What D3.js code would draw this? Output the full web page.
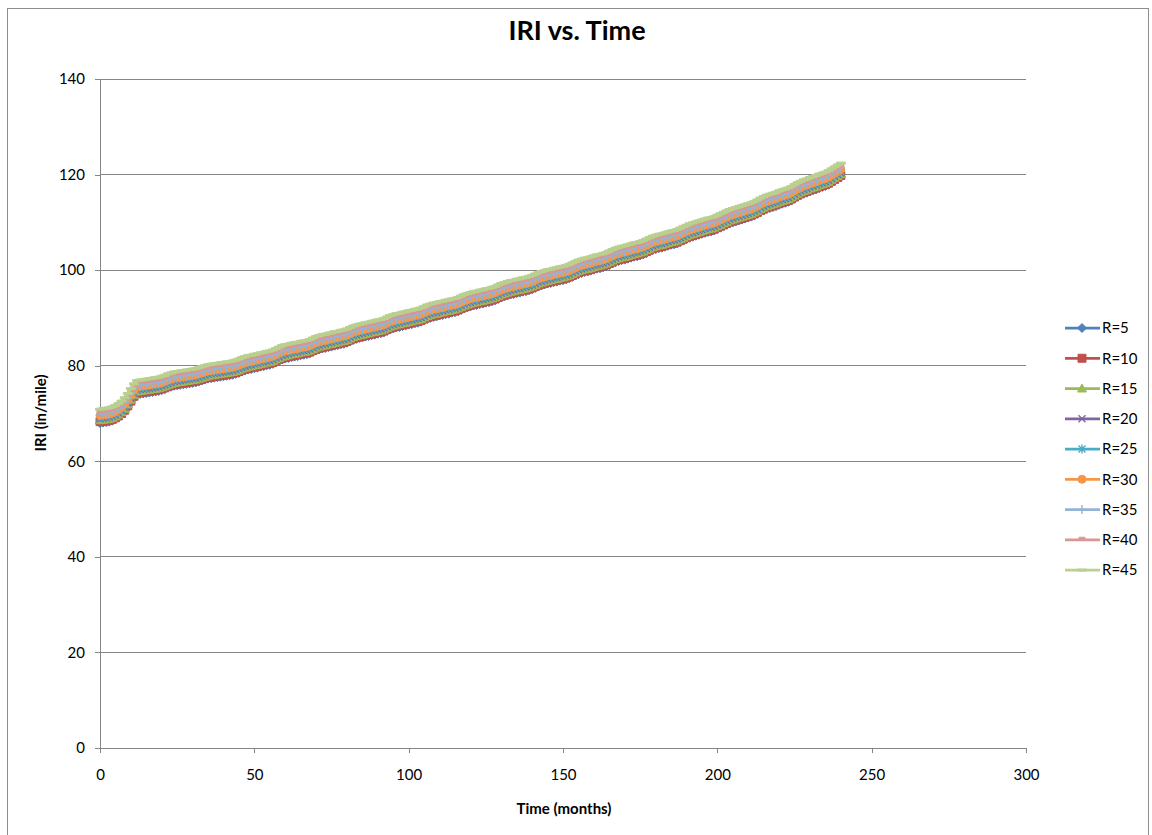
<!DOCTYPE html>
<html>
<head>
<meta charset="utf-8">
<script src="https://d3js.org/d3.v7.min.js"></script>
<style>
  body { margin: 0; background: #fff; }
  svg text { font-family: Lato, "Open Sans", sans-serif; fill: #000; }
</style>
</head>
<body>
<div id="chart"></div>
<script>
var w = 1152;
var h = 835;

// plot area (Excel-style)
var plotLeft = 100, plotRight = 1026, plotTop = 79, plotBottom = 748;

var seriesNames = ["R=5", "R=10", "R=15", "R=20", "R=25", "R=30", "R=35", "R=40", "R=45"];
var seriesColors = ["#4F81BD", "#C0504D", "#9BBB59", "#8064A2", "#4BACC6", "#F79646", "#95B3D7", "#D99694", "#B9D08F"];
var seriesMarkers = ["diamond", "square", "triangle", "x", "star", "circle", "plus", "dash", "longdash"];

var xTicks = [0, 50, 100, 150, 200, 250, 300];
var yTicks = [0, 20, 40, 60, 80, 100, 120, 140];

// months 0..240, one point per month
var months = d3.range(0, 241);

// IRI (in/mile), one row per year
var iriR5 = [
  68.0,68.1,68.2,68.3,68.5,68.8,69.2,69.7,70.4,71.3,72.3,73.3,
  74.0,74.1,74.2,74.3,74.4,74.5,74.6,74.7,74.9,75.1,75.4,75.6,
  75.8,75.9,76.0,76.1,76.2,76.3,76.4,76.5,76.7,76.9,77.1,77.3,
  77.4,77.5,77.6,77.7,77.8,77.9,78.0,78.1,78.3,78.5,78.8,79.0,
  79.2,79.3,79.5,79.6,79.8,79.9,80.1,80.2,80.4,80.7,81.0,81.3,
  81.5,81.6,81.8,81.9,82.0,82.2,82.3,82.4,82.6,82.9,83.2,83.4,
  83.6,83.7,83.9,84.0,84.2,84.3,84.5,84.6,84.8,85.1,85.4,85.6,
  85.8,85.9,86.1,86.2,86.4,86.5,86.7,86.8,87.0,87.3,87.6,87.8,
  88.0,88.1,88.3,88.4,88.6,88.7,88.9,89.0,89.2,89.5,89.8,90.0,
  90.2,90.3,90.5,90.6,90.8,90.9,91.1,91.2,91.4,91.7,92.0,92.2,
  92.4,92.6,92.7,92.9,93.0,93.2,93.3,93.5,93.7,94.0,94.3,94.5,
  94.7,94.9,95.0,95.2,95.3,95.5,95.6,95.8,96.0,96.3,96.6,96.8,
  97.0,97.2,97.3,97.5,97.6,97.8,97.9,98.1,98.3,98.6,98.9,99.2,
  99.4,99.6,99.7,99.9,100.1,100.3,100.4,100.6,100.8,101.1,101.4,101.7,
  101.9,102.1,102.2,102.4,102.6,102.8,102.9,103.1,103.3,103.6,103.9,104.2,
  104.4,104.6,104.7,104.9,105.1,105.3,105.4,105.6,105.9,106.2,106.5,106.8,
  107.0,107.2,107.4,107.6,107.8,108.0,108.1,108.3,108.6,108.9,109.2,109.5,
  109.8,110.0,110.2,110.4,110.6,110.8,111.0,111.2,111.5,111.8,112.2,112.5,
  112.8,113.0,113.2,113.4,113.7,113.9,114.1,114.3,114.6,115.0,115.4,115.7,
  116.0,116.2,116.5,116.7,116.9,117.2,117.4,117.6,117.9,118.3,118.7,119.1,
  119.5
];
var iriR10 = [
  68.3,68.4,68.5,68.6,68.8,69.1,69.5,70.0,70.7,71.6,72.6,73.6,
  74.3,74.4,74.5,74.6,74.7,74.8,74.9,75.0,75.2,75.4,75.7,75.9,
  76.1,76.2,76.3,76.4,76.5,76.6,76.7,76.8,77.0,77.2,77.4,77.6,
  77.7,77.8,77.9,78.0,78.1,78.2,78.3,78.4,78.6,78.8,79.1,79.3,
  79.5,79.6,79.8,79.9,80.1,80.2,80.4,80.5,80.7,81.0,81.3,81.6,
  81.8,81.9,82.1,82.2,82.3,82.5,82.6,82.7,82.9,83.2,83.5,83.7,
  83.9,84.0,84.2,84.3,84.5,84.6,84.8,84.9,85.1,85.4,85.7,85.9,
  86.1,86.2,86.4,86.5,86.7,86.8,87.0,87.1,87.3,87.6,87.9,88.1,
  88.3,88.4,88.6,88.7,88.9,89.0,89.2,89.3,89.5,89.8,90.1,90.3,
  90.5,90.6,90.8,90.9,91.1,91.2,91.4,91.5,91.7,92.0,92.3,92.5,
  92.7,92.9,93.0,93.2,93.3,93.5,93.6,93.8,94.0,94.3,94.6,94.8,
  95.0,95.2,95.3,95.5,95.6,95.8,95.9,96.1,96.3,96.6,96.9,97.1,
  97.3,97.5,97.6,97.8,97.9,98.1,98.2,98.4,98.6,98.9,99.2,99.5,
  99.7,99.9,100.0,100.2,100.4,100.6,100.7,100.9,101.1,101.4,101.7,102.0,
  102.2,102.4,102.5,102.7,102.9,103.1,103.2,103.4,103.6,103.9,104.2,104.5,
  104.7,104.9,105.0,105.2,105.4,105.6,105.7,105.9,106.2,106.5,106.8,107.1,
  107.3,107.5,107.7,107.9,108.1,108.3,108.4,108.6,108.9,109.2,109.5,109.8,
  110.1,110.3,110.5,110.7,110.9,111.1,111.3,111.5,111.8,112.1,112.5,112.8,
  113.1,113.3,113.5,113.7,114.0,114.2,114.4,114.6,114.9,115.3,115.7,116.0,
  116.3,116.5,116.8,117.0,117.2,117.5,117.7,117.9,118.2,118.6,119.0,119.4,
  119.8
];
var iriR15 = [
  68.6,68.7,68.8,68.9,69.1,69.4,69.8,70.3,71.0,71.9,72.9,73.9,
  74.6,74.7,74.8,74.9,75.0,75.1,75.2,75.3,75.5,75.7,76.0,76.2,
  76.4,76.5,76.6,76.7,76.8,76.9,77.0,77.1,77.3,77.5,77.7,77.9,
  78.0,78.1,78.2,78.3,78.4,78.5,78.6,78.7,78.9,79.1,79.4,79.6,
  79.8,79.9,80.1,80.2,80.4,80.5,80.7,80.8,81.0,81.3,81.6,81.9,
  82.1,82.2,82.4,82.5,82.6,82.8,82.9,83.0,83.2,83.5,83.8,84.0,
  84.2,84.3,84.5,84.6,84.8,84.9,85.1,85.2,85.4,85.7,86.0,86.2,
  86.4,86.5,86.7,86.8,87.0,87.1,87.3,87.4,87.6,87.9,88.2,88.4,
  88.6,88.7,88.9,89.0,89.2,89.3,89.5,89.6,89.8,90.1,90.4,90.6,
  90.8,90.9,91.1,91.2,91.4,91.5,91.7,91.8,92.0,92.3,92.6,92.8,
  93.0,93.2,93.3,93.5,93.6,93.8,93.9,94.1,94.3,94.6,94.9,95.1,
  95.3,95.5,95.6,95.8,95.9,96.1,96.2,96.4,96.6,96.9,97.2,97.4,
  97.6,97.8,97.9,98.1,98.2,98.4,98.5,98.7,98.9,99.2,99.5,99.8,
  100.0,100.2,100.3,100.5,100.7,100.9,101.0,101.2,101.4,101.7,102.0,102.3,
  102.5,102.7,102.8,103.0,103.2,103.4,103.5,103.7,103.9,104.2,104.5,104.8,
  105.0,105.2,105.3,105.5,105.7,105.9,106.0,106.2,106.5,106.8,107.1,107.4,
  107.6,107.8,108.0,108.2,108.4,108.6,108.7,108.9,109.2,109.5,109.8,110.1,
  110.4,110.6,110.8,111.0,111.2,111.4,111.6,111.8,112.1,112.4,112.8,113.1,
  113.4,113.6,113.8,114.0,114.3,114.5,114.7,114.9,115.2,115.6,116.0,116.3,
  116.6,116.8,117.1,117.3,117.5,117.8,118.0,118.2,118.5,118.9,119.3,119.7,
  120.1
];
var iriR20 = [
  68.9,69.0,69.1,69.2,69.4,69.7,70.1,70.6,71.3,72.2,73.2,74.2,
  74.9,75.0,75.1,75.2,75.3,75.4,75.5,75.6,75.8,76.0,76.3,76.5,
  76.7,76.8,76.9,77.0,77.1,77.2,77.3,77.4,77.6,77.8,78.0,78.2,
  78.3,78.4,78.5,78.6,78.7,78.8,78.9,79.0,79.2,79.4,79.7,79.9,
  80.1,80.2,80.4,80.5,80.7,80.8,81.0,81.1,81.3,81.6,81.9,82.2,
  82.4,82.5,82.7,82.8,82.9,83.1,83.2,83.3,83.5,83.8,84.1,84.3,
  84.5,84.6,84.8,84.9,85.1,85.2,85.4,85.5,85.7,86.0,86.3,86.5,
  86.7,86.8,87.0,87.1,87.3,87.4,87.6,87.7,87.9,88.2,88.5,88.7,
  88.9,89.0,89.2,89.3,89.5,89.6,89.8,89.9,90.1,90.4,90.7,90.9,
  91.1,91.2,91.4,91.5,91.7,91.8,92.0,92.1,92.3,92.6,92.9,93.1,
  93.3,93.5,93.6,93.8,93.9,94.1,94.2,94.4,94.6,94.9,95.2,95.4,
  95.6,95.8,95.9,96.1,96.2,96.4,96.5,96.7,96.9,97.2,97.5,97.7,
  97.9,98.1,98.2,98.4,98.5,98.7,98.8,99.0,99.2,99.5,99.8,100.1,
  100.3,100.5,100.6,100.8,101.0,101.2,101.3,101.5,101.7,102.0,102.3,102.6,
  102.8,103.0,103.1,103.3,103.5,103.7,103.8,104.0,104.2,104.5,104.8,105.1,
  105.3,105.5,105.6,105.8,106.0,106.2,106.3,106.5,106.8,107.1,107.4,107.7,
  107.9,108.1,108.3,108.5,108.7,108.9,109.0,109.2,109.5,109.8,110.1,110.4,
  110.7,110.9,111.1,111.3,111.5,111.7,111.9,112.1,112.4,112.7,113.1,113.4,
  113.7,113.9,114.1,114.3,114.6,114.8,115.0,115.2,115.5,115.9,116.3,116.6,
  116.9,117.1,117.4,117.6,117.8,118.1,118.3,118.5,118.8,119.2,119.6,120.0,
  120.4
];
var iriR25 = [
  69.2,69.3,69.4,69.5,69.7,70.0,70.4,70.9,71.6,72.5,73.5,74.5,
  75.2,75.3,75.4,75.5,75.6,75.7,75.8,75.9,76.1,76.3,76.6,76.8,
  77.0,77.1,77.2,77.3,77.4,77.5,77.6,77.7,77.9,78.1,78.3,78.5,
  78.6,78.7,78.8,78.9,79.0,79.1,79.2,79.3,79.5,79.7,80.0,80.2,
  80.4,80.5,80.7,80.8,81.0,81.1,81.3,81.4,81.6,81.9,82.2,82.5,
  82.7,82.8,83.0,83.1,83.2,83.4,83.5,83.6,83.8,84.1,84.4,84.6,
  84.8,84.9,85.1,85.2,85.4,85.5,85.7,85.8,86.0,86.3,86.6,86.8,
  87.0,87.1,87.3,87.4,87.6,87.7,87.9,88.0,88.2,88.5,88.8,89.0,
  89.2,89.3,89.5,89.6,89.8,89.9,90.1,90.2,90.4,90.7,91.0,91.2,
  91.4,91.5,91.7,91.8,92.0,92.1,92.3,92.4,92.6,92.9,93.2,93.4,
  93.6,93.8,93.9,94.1,94.2,94.4,94.5,94.7,94.9,95.2,95.5,95.7,
  95.9,96.1,96.2,96.4,96.5,96.7,96.8,97.0,97.2,97.5,97.8,98.0,
  98.2,98.4,98.5,98.7,98.8,99.0,99.1,99.3,99.5,99.8,100.1,100.4,
  100.6,100.8,100.9,101.1,101.3,101.5,101.6,101.8,102.0,102.3,102.6,102.9,
  103.1,103.3,103.4,103.6,103.8,104.0,104.1,104.3,104.5,104.8,105.1,105.4,
  105.6,105.8,105.9,106.1,106.3,106.5,106.6,106.8,107.1,107.4,107.7,108.0,
  108.2,108.4,108.6,108.8,109.0,109.2,109.3,109.5,109.8,110.1,110.4,110.7,
  111.0,111.2,111.4,111.6,111.8,112.0,112.2,112.4,112.7,113.0,113.4,113.7,
  114.0,114.2,114.4,114.6,114.9,115.1,115.3,115.5,115.8,116.2,116.6,116.9,
  117.2,117.4,117.7,117.9,118.1,118.4,118.6,118.8,119.1,119.5,119.9,120.3,
  120.7
];
var iriR30 = [
  69.6,69.7,69.8,69.9,70.1,70.4,70.8,71.3,72.0,72.9,73.9,74.9,
  75.6,75.7,75.8,75.9,76.0,76.1,76.2,76.3,76.5,76.7,77.0,77.2,
  77.4,77.5,77.6,77.7,77.8,77.9,78.0,78.1,78.3,78.5,78.7,78.9,
  79.0,79.1,79.2,79.3,79.4,79.5,79.6,79.7,79.9,80.1,80.4,80.6,
  80.8,80.9,81.1,81.2,81.4,81.5,81.7,81.8,82.0,82.3,82.6,82.9,
  83.1,83.2,83.4,83.5,83.6,83.8,83.9,84.0,84.2,84.5,84.8,85.0,
  85.2,85.3,85.5,85.6,85.8,85.9,86.1,86.2,86.4,86.7,87.0,87.2,
  87.4,87.5,87.7,87.8,88.0,88.1,88.3,88.4,88.6,88.9,89.2,89.4,
  89.6,89.7,89.9,90.0,90.2,90.3,90.5,90.6,90.8,91.1,91.4,91.6,
  91.8,91.9,92.1,92.2,92.4,92.5,92.7,92.8,93.0,93.3,93.6,93.8,
  94.0,94.2,94.3,94.5,94.6,94.8,94.9,95.1,95.3,95.6,95.9,96.1,
  96.3,96.5,96.6,96.8,96.9,97.1,97.2,97.4,97.6,97.9,98.2,98.4,
  98.6,98.8,98.9,99.1,99.2,99.4,99.5,99.7,99.9,100.2,100.5,100.8,
  101.0,101.2,101.3,101.5,101.7,101.9,102.0,102.2,102.4,102.7,103.0,103.3,
  103.5,103.7,103.8,104.0,104.2,104.4,104.5,104.7,104.9,105.2,105.5,105.8,
  106.0,106.2,106.3,106.5,106.7,106.9,107.0,107.2,107.5,107.8,108.1,108.4,
  108.6,108.8,109.0,109.2,109.4,109.6,109.7,109.9,110.2,110.5,110.8,111.1,
  111.4,111.6,111.8,112.0,112.2,112.4,112.6,112.8,113.1,113.4,113.8,114.1,
  114.4,114.6,114.8,115.0,115.3,115.5,115.7,115.9,116.2,116.6,117.0,117.3,
  117.6,117.8,118.1,118.3,118.5,118.8,119.0,119.2,119.5,119.9,120.3,120.7,
  121.1
];
var iriR35 = [
  69.9,70.0,70.1,70.2,70.4,70.7,71.1,71.6,72.3,73.2,74.2,75.2,
  75.9,76.0,76.1,76.2,76.3,76.4,76.5,76.6,76.8,77.0,77.3,77.5,
  77.7,77.8,77.9,78.0,78.1,78.2,78.3,78.4,78.6,78.8,79.0,79.2,
  79.3,79.4,79.5,79.6,79.7,79.8,79.9,80.0,80.2,80.4,80.7,80.9,
  81.1,81.2,81.4,81.5,81.7,81.8,82.0,82.1,82.3,82.6,82.9,83.2,
  83.4,83.5,83.7,83.8,83.9,84.1,84.2,84.3,84.5,84.8,85.1,85.3,
  85.5,85.6,85.8,85.9,86.1,86.2,86.4,86.5,86.7,87.0,87.3,87.5,
  87.7,87.8,88.0,88.1,88.3,88.4,88.6,88.7,88.9,89.2,89.5,89.7,
  89.9,90.0,90.2,90.3,90.5,90.6,90.8,90.9,91.1,91.4,91.7,91.9,
  92.1,92.2,92.4,92.5,92.7,92.8,93.0,93.1,93.3,93.6,93.9,94.1,
  94.3,94.5,94.6,94.8,94.9,95.1,95.2,95.4,95.6,95.9,96.2,96.4,
  96.6,96.8,96.9,97.1,97.2,97.4,97.5,97.7,97.9,98.2,98.5,98.7,
  98.9,99.1,99.2,99.4,99.5,99.7,99.8,100.0,100.2,100.5,100.8,101.1,
  101.3,101.5,101.6,101.8,102.0,102.2,102.3,102.5,102.7,103.0,103.3,103.6,
  103.8,104.0,104.1,104.3,104.5,104.7,104.8,105.0,105.2,105.5,105.8,106.1,
  106.3,106.5,106.6,106.8,107.0,107.2,107.3,107.5,107.8,108.1,108.4,108.7,
  108.9,109.1,109.3,109.5,109.7,109.9,110.0,110.2,110.5,110.8,111.1,111.4,
  111.7,111.9,112.1,112.3,112.5,112.7,112.9,113.1,113.4,113.7,114.1,114.4,
  114.7,114.9,115.1,115.3,115.6,115.8,116.0,116.2,116.5,116.9,117.3,117.6,
  117.9,118.1,118.4,118.6,118.8,119.1,119.3,119.5,119.8,120.2,120.6,121.0,
  121.4
];
var iriR40 = [
  70.3,70.4,70.5,70.6,70.8,71.1,71.5,72.0,72.7,73.6,74.6,75.6,
  76.3,76.4,76.5,76.6,76.7,76.8,76.9,77.0,77.2,77.4,77.7,77.9,
  78.1,78.2,78.3,78.4,78.5,78.6,78.7,78.8,79.0,79.2,79.4,79.6,
  79.7,79.8,79.9,80.0,80.1,80.2,80.3,80.4,80.6,80.8,81.1,81.3,
  81.5,81.6,81.8,81.9,82.1,82.2,82.4,82.5,82.7,83.0,83.3,83.6,
  83.8,83.9,84.1,84.2,84.3,84.5,84.6,84.7,84.9,85.2,85.5,85.7,
  85.9,86.0,86.2,86.3,86.5,86.6,86.8,86.9,87.1,87.4,87.7,87.9,
  88.1,88.2,88.4,88.5,88.7,88.8,89.0,89.1,89.3,89.6,89.9,90.1,
  90.3,90.4,90.6,90.7,90.9,91.0,91.2,91.3,91.5,91.8,92.1,92.3,
  92.5,92.6,92.8,92.9,93.1,93.2,93.4,93.5,93.7,94.0,94.3,94.5,
  94.7,94.9,95.0,95.2,95.3,95.5,95.6,95.8,96.0,96.3,96.6,96.8,
  97.0,97.2,97.3,97.5,97.6,97.8,97.9,98.1,98.3,98.6,98.9,99.1,
  99.3,99.5,99.6,99.8,99.9,100.1,100.2,100.4,100.6,100.9,101.2,101.5,
  101.7,101.9,102.0,102.2,102.4,102.6,102.7,102.9,103.1,103.4,103.7,104.0,
  104.2,104.4,104.5,104.7,104.9,105.1,105.2,105.4,105.6,105.9,106.2,106.5,
  106.7,106.9,107.0,107.2,107.4,107.6,107.7,107.9,108.2,108.5,108.8,109.1,
  109.3,109.5,109.7,109.9,110.1,110.3,110.4,110.6,110.9,111.2,111.5,111.8,
  112.1,112.3,112.5,112.7,112.9,113.1,113.3,113.5,113.8,114.1,114.5,114.8,
  115.1,115.3,115.5,115.7,116.0,116.2,116.4,116.6,116.9,117.3,117.7,118.0,
  118.3,118.5,118.8,119.0,119.2,119.5,119.7,119.9,120.2,120.6,121.0,121.4,
  121.8
];
var iriR45 = [
  70.9,71.0,71.1,71.2,71.4,71.7,72.1,72.6,73.3,74.2,75.2,76.2,
  76.9,77.0,77.1,77.2,77.3,77.4,77.5,77.6,77.8,78.0,78.3,78.5,
  78.7,78.8,78.9,79.0,79.1,79.2,79.3,79.4,79.6,79.8,80.0,80.2,
  80.3,80.4,80.5,80.6,80.7,80.8,80.9,81.0,81.2,81.4,81.7,81.9,
  82.1,82.2,82.4,82.5,82.7,82.8,83.0,83.1,83.3,83.6,83.9,84.2,
  84.4,84.5,84.7,84.8,84.9,85.1,85.2,85.3,85.5,85.8,86.1,86.3,
  86.5,86.6,86.8,86.9,87.1,87.2,87.4,87.5,87.7,88.0,88.3,88.5,
  88.7,88.8,89.0,89.1,89.3,89.4,89.6,89.7,89.9,90.2,90.5,90.7,
  90.9,91.0,91.2,91.3,91.5,91.6,91.8,91.9,92.1,92.4,92.7,92.9,
  93.1,93.2,93.4,93.5,93.7,93.8,94.0,94.1,94.3,94.6,94.9,95.1,
  95.3,95.5,95.6,95.8,95.9,96.1,96.2,96.4,96.6,96.9,97.2,97.4,
  97.6,97.8,97.9,98.1,98.2,98.4,98.5,98.7,98.9,99.2,99.5,99.7,
  99.9,100.1,100.2,100.4,100.5,100.7,100.8,101.0,101.2,101.5,101.8,102.1,
  102.3,102.5,102.6,102.8,103.0,103.2,103.3,103.5,103.7,104.0,104.3,104.6,
  104.8,105.0,105.1,105.3,105.5,105.7,105.8,106.0,106.2,106.5,106.8,107.1,
  107.3,107.5,107.6,107.8,108.0,108.2,108.3,108.5,108.8,109.1,109.4,109.7,
  109.9,110.1,110.3,110.5,110.7,110.9,111.0,111.2,111.5,111.8,112.1,112.4,
  112.7,112.9,113.1,113.3,113.5,113.7,113.9,114.1,114.4,114.7,115.1,115.4,
  115.7,115.9,116.1,116.3,116.6,116.8,117.0,117.2,117.5,117.9,118.3,118.6,
  118.9,119.1,119.4,119.6,119.8,120.1,120.3,120.5,120.8,121.2,121.6,122.0,
  122.4
];

var seriesValues = [iriR5, iriR10, iriR15, iriR20, iriR25, iriR30, iriR35, iriR40, iriR45];

function IriChart(){

  var svg = d3.select("#chart")
              .append("svg")
              .attr("width", w)
              .attr("height", h);

  // chart area border
  svg.append("rect")
     .attr("x", 7.5)
     .attr("y", 8.5)
     .attr("width", 1141)
     .attr("height", 840)
     .attr("fill", "#fff")
     .attr("stroke", "#8e8e8e");

  var x = d3.scaleLinear().domain([0, 300]).range([plotLeft, plotRight]);
  var y = d3.scaleLinear().domain([0, 140]).range([plotBottom, plotTop]);

  // horizontal gridlines
  svg.append("g")
     .attr("class", "grid")
     .selectAll("line")
     .data(yTicks.slice(1))
     .enter()
     .append("line")
     .attr("x1", plotLeft)
     .attr("x2", plotRight)
     .attr("y1", function(d){ return y(d); })
     .attr("y2", function(d){ return y(d); })
     .attr("stroke", "#868686")
     .attr("shape-rendering", "crispEdges");

  // axes
  var yAxis = svg.append("g")
                 .attr("transform", "translate(" + plotLeft + ",0)")
                 .call(d3.axisLeft(y).tickValues(yTicks).tickSize(5).tickSizeOuter(0).tickPadding(10));
  var xAxis = svg.append("g")
                 .attr("transform", "translate(0," + plotBottom + ")")
                 .call(d3.axisBottom(x).tickValues(xTicks).tickSize(5).tickSizeOuter(0).tickPadding(16));

  [xAxis, yAxis].forEach(function(a){
    a.selectAll("path, line").attr("stroke", "#868686").attr("shape-rendering", "crispEdges");
    a.selectAll("text").style("font-size", "15px").attr("fill", "#000");
  });

  // titles
  svg.append("text")
     .attr("x", 577)
     .attr("y", 40)
     .attr("text-anchor", "middle")
     .style("font-size", "27px")
     .style("font-weight", "bold")
     .text("IRI vs. Time");

  svg.append("text")
     .attr("x", 564)
     .attr("y", 814)
     .attr("text-anchor", "middle")
     .style("font-size", "15px")
     .style("font-weight", "bold")
     .text("Time (months)");

  svg.append("text")
     .attr("transform", "translate(46,413) rotate(-90)")
     .attr("text-anchor", "middle")
     .style("font-size", "15px")
     .style("font-weight", "bold")
     .text("IRI (in/mile)");

  var line = d3.line()
               .x(function(d, i){ return x(months[i]); })
               .y(function(d){ return y(d); });

  // one group per series: line first, then its markers
  var plot = svg.append("g").attr("class", "series");
  seriesValues.forEach(function(values, s){
    var g = plot.append("g");
    g.append("path")
     .datum(values)
     .attr("d", line)
     .attr("fill", "none")
     .attr("stroke", seriesColors[s])
     .attr("stroke-width", 2.75)
     .attr("stroke-linejoin", "round");

    g.selectAll("path.mk")
     .data(values)
     .enter()
     .append("path")
     .attr("class", "mk")
     .attr("transform", function(d, i){ return "translate(" + x(months[i]) + "," + y(d) + ")"; })
     .call(styleMarker, seriesMarkers[s], seriesColors[s]);
  });

  // legend
  var legend = svg.append("g").attr("class", "legend");
  seriesNames.forEach(function(name, s){
    var ly = 328 + s * 30.25;
    var item = legend.append("g");
    item.append("line")
        .attr("x1", 1065)
        .attr("x2", 1100)
        .attr("y1", ly)
        .attr("y2", ly)
        .attr("stroke", seriesColors[s])
        .attr("stroke-width", 2.75);
    item.append("path")
        .attr("transform", "translate(1082," + ly + ")")
        .call(styleMarker, seriesMarkers[s], seriesColors[s]);
    item.append("text")
        .attr("x", 1102)
        .attr("y", ly)
        .attr("dy", "0.36em")
        .style("font-size", "15px")
        .text(name);
  });
}

function markerPath(type){
  switch (type){
    case "diamond":  return "M0,-4.5L4.5,0L0,4.5L-4.5,0Z";
    case "square":   return "M-4,-4H4V4H-4Z";
    case "triangle": return "M0,-4.5L4.5,3.5H-4.5Z";
    case "x":        return "M-3.5,-3.5L3.5,3.5M-3.5,3.5L3.5,-3.5";
    case "star":     return "M-3.5,-3.5L3.5,3.5M-3.5,3.5L3.5,-3.5M0,-4.5V4.5";
    case "circle":   return "M4,0A4,4 0 1,1 -4,0A4,4 0 1,1 4,0Z";
    case "plus":     return "M-4,0H4M0,-4.5V4.5";
    case "dash":     return "M-3,-2.5H3V0.5H-3Z";
    case "longdash": return "M-4.5,-1H4.5V1H-4.5Z";
  }
  return "";
}

function styleMarker(sel, type, color){
  var stroked = (type == "x" || type == "star" || type == "plus");
  sel.attr("d", markerPath(type))
     .attr("fill", stroked ? "none" : color)
     .attr("stroke", color)
     .attr("stroke-width", stroked ? 1.4 : 1);
}

IriChart();
</script>
</body>
</html>
